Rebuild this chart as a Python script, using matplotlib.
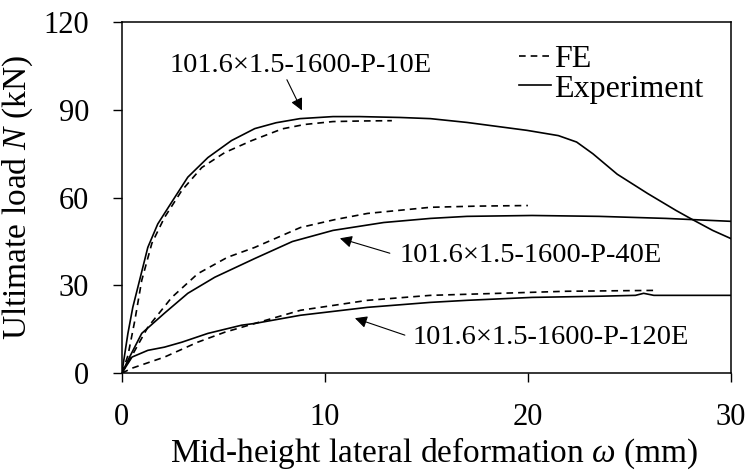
import matplotlib
matplotlib.use("Agg")
import matplotlib.pyplot as plt

plt.rcParams["font.family"] = ["Liberation Serif", "DejaVu Serif"]
plt.rcParams["mathtext.fontset"] = "custom"
plt.rcParams["mathtext.rm"] = "Liberation Serif"
plt.rcParams["mathtext.it"] = "Liberation Serif:italic"

# 101.6x1.5-1600-P-10E
exp10_x = [0, 0.3, 0.54, 0.79, 1.28, 1.77, 2.46, 3.25, 4.24, 5.4, 6.55, 7.6, 8.77, 10.4, 11.7,
           13.7, 15.2, 17.0, 19.95, 21.5, 22.4, 23.2, 24.4, 25.9, 27.3, 28.0, 29.1, 30.0]
exp10_y = [0, 13.6, 22.5, 29.4, 43.0, 51.0, 58.5, 67.0, 73.7, 79.5, 83.6, 85.6, 87.0, 87.7, 87.7,
           87.4, 87.0, 85.7, 83.0, 81.2, 79.0, 75.0, 68.0, 61.4, 55.6, 52.9, 48.8, 46.0]
fe10_x = [0, 0.3, 0.64, 0.98, 1.48, 2.1, 2.96, 3.94, 5.07, 6.4, 7.9, 9.0, 10.4, 11.8, 13.3]
fe10_y = [0, 6.0, 18.0, 31.7, 44.4, 53.2, 62.5, 70.3, 75.4, 79.5, 83.5, 85.0, 86.0, 86.2, 86.3]

# 101.6x1.5-1600-P-40E
exp40_x = [0, 0.3, 0.98, 2.1, 3.25, 4.58, 6.55, 8.4, 10.4, 12.9, 15.2, 17.0, 20.2, 23.5,
           26.8, 30.0]
exp40_y = [0, 4.4, 13.6, 20.5, 27.3, 32.8, 39.2, 45.0, 48.8, 51.5, 52.9, 53.6, 53.9, 53.6,
           52.9, 51.9]
fe40_x = [0, 0.5, 1.28, 2.46, 3.74, 5.2, 6.55, 8.8, 10.5, 12.1, 15.2, 17.5, 20.0]
fe40_y = [0, 6.0, 15.7, 25.9, 34.0, 39.6, 43.0, 49.8, 52.5, 54.6, 56.7, 57.1, 57.3]

# 101.6x1.5-1600-P-120E
exp120_x = [0, 0.5, 1.28, 2.1, 2.96, 4.24, 5.9, 6.55, 8.8, 12.1, 15.2, 17.0, 20.2, 23.5,
            25.3, 25.7, 26.2, 28.0, 30.0]
exp120_y = [0, 5.5, 7.8, 8.9, 10.6, 13.6, 16.4, 17.0, 19.8, 22.5, 24.2, 24.9, 25.9, 26.3,
            26.6, 27.3, 26.6, 26.6, 26.6]
fe120_x = [0, 0.5, 2.1, 3.74, 5.07, 6.55, 8.8, 12.1, 15.2, 18.6, 21.9, 26.3]
fe120_y = [0, 1.7, 5.5, 10.6, 14.0, 17.0, 21.5, 24.9, 26.6, 27.3, 28.0, 28.3]

labels = ["101.6×1.5-1600-P-10E", "101.6×1.5-1600-P-40E", "101.6×1.5-1600-P-120E"]
label_pos = [(2.36, 105.1), (13.7, 40.3), (14.33, 12.3)]
arrow_tip = [(8.87, 89.8), (10.74, 46.1), (11.48, 18.8)]
arrow_tail = [(8.13, 100.3), (13.2, 41.0), (13.94, 13.0)]

fig = plt.figure(figsize=(7.52, 4.70), dpi=100)
ax = fig.add_axes([0.162, 0.206, 0.810, 0.747])

dash = (0, (4, 3))
lw = 1.2
ax.plot(fe10_x, fe10_y, color="black", lw=lw, linestyle=dash, label="FE")
ax.plot(exp10_x, exp10_y, color="black", lw=lw, label="Experiment")
ax.plot(fe40_x, fe40_y, color="black", lw=lw, linestyle=dash)
ax.plot(exp40_x, exp40_y, color="black", lw=lw)
ax.plot(fe120_x, fe120_y, color="black", lw=lw, linestyle=dash)
ax.plot(exp120_x, exp120_y, color="black", lw=lw)

for lab, pos, tip, tail in zip(labels, label_pos, arrow_tip, arrow_tail):
    ax.text(pos[0], pos[1], lab, ha="left", va="center", fontsize=20.5)
    ax.annotate("", xy=tip, xytext=tail,
                arrowprops=dict(arrowstyle="-|>", color="black", lw=0.8,
                                mutation_scale=18, shrinkA=0, shrinkB=0))

ax.set_xlim(0, 30)
ax.set_ylim(0, 120)
ax.set_xticks([0, 10, 20, 30])
ax.set_yticks([0, 30, 60, 90, 120])
ax.tick_params(direction="out", length=6.5, width=1.0, labelsize=22)
ax.tick_params(axis="y", pad=17)
ax.tick_params(axis="x", pad=15)
for s in ax.spines.values():
    s.set_linewidth(1.1)

ax.set_xlabel(r"Mid-height lateral deformation $\omega$ (mm)", fontsize=24, labelpad=0)
ax.xaxis.set_label_coords(0.513, -0.178)
ax.set_ylabel(r"Ultimate load $N$ (kN)", fontsize=24, labelpad=6)

ax.legend(loc="upper left", bbox_to_anchor=(0.652, 0.935), frameon=False, fontsize=23,
          handlelength=1.0, handletextpad=0.1, borderaxespad=0, borderpad=0,
          labelspacing=0.0)

fig.savefig("out.png", dpi=100)
